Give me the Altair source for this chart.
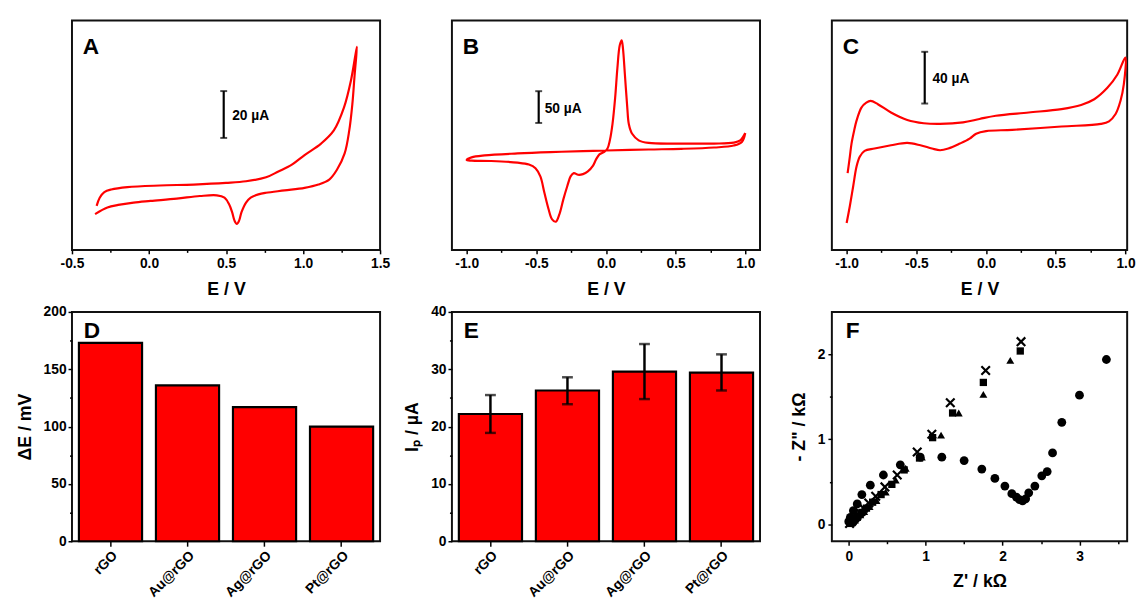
import altair as alt
import pandas as pd

FONT = "Liberation Sans"
RED = "#ff0000"

# ---------------- Panel A (CV) ----------------
A_E = [-0.34, -0.32, -0.29, -0.245, -0.14, 0.07, 0.29, 0.50, 0.63, 0.76, 0.84, 0.925, 1.01, 1.117, 1.20, 1.266, 1.31, 1.34, 1.35,
       1.335, 1.32, 1.30, 1.27, 1.22, 1.17, 1.10, 1.01, 0.88, 0.76, 0.71, 0.66, 0.63, 0.60, 0.585, 0.57, 0.555, 0.54, 0.52,
       0.49, 0.44, 0.33, 0.18, 0.01, -0.10, -0.20, -0.27, -0.35]
A_I = [-5.6, -2.1, 0.3, 1.4, 2.4, 3.1, 3.5, 4.2, 4.9, 6.6, 9.1, 11.9, 16.1, 21.0, 26.6, 36.4, 47.6, 58.8, 62.3,
       50.4, 37.8, 26.6, 16.8, 9.8, 5.6, 3.5, 2.1, 1.0, 0.0, -0.7, -2.1, -4.2, -8.4, -11.9, -13.3, -11.9, -8.4, -4.9,
       -2.1, -1.1, -1.4, -2.5, -3.5, -4.2, -5.2, -6.3, -9.1]

# ---------------- Panel B (CV) ----------------
B_E = [1.0, 0.964, 0.917, 0.776, 0.541, 0.306, 0.235, 0.188, 0.164, 0.153, 0.136, 0.122, 0.113, 0.099, 0.082, 0.066,
       0.047, 0.028, 0.011, -0.012, -0.047, -0.071, -0.094, -0.130, -0.165, -0.200, -0.231, -0.254, -0.278, -0.306,
       -0.334, -0.360, -0.388, -0.412, -0.442, -0.471, -0.506, -0.553, -0.635, -0.824, -0.965, -1.0, -0.965, -0.871,
       -0.635, -0.400, -0.165, 0.0, 0.306, 0.541, 0.776, 0.917, 0.976, 1.0]
B_I = [32.0, 20.6, 17.0, 15.5, 15.5, 16.5, 20.6, 30.9, 46.4, 72.1, 123.6, 164.9, 177.7, 170.0, 134.0, 87.6,
       46.4, 20.6, 7.7, 2.6, -1.5, -9.3, -19.6, -28.3, -32.5, -33.5, -30.9, -36.1, -51.5, -72.1,
       -95.3, -107.2, -103.0, -87.6, -61.8, -36.1, -23.2, -17.5, -14.4, -11.8, -11.3, -10.3, -6.2, -3.1,
       0.0, 2.1, 3.6, 4.6, 6.2, 7.2, 9.3, 12.4, 18.0, 32.0]

# ---------------- Panel C (CV) ----------------
C_E = [-0.993, -0.977, -0.965, -0.946, -0.929, -0.894, -0.859, -0.828, -0.776, -0.682, -0.565, -0.447, -0.330, -0.165,
       -0.047, 0.070, 0.306, 0.541, 0.682, 0.776, 0.870, 0.941, 0.999,
       0.988, 0.964, 0.929, 0.882, 0.823, 0.541, 0.188, 0.0, -0.071, -0.118, -0.188, -0.271, -0.330, -0.388, -0.471,
       -0.565, -0.682, -0.800, -0.871, -0.906, -0.929, -0.953, -0.977, -1.0]
C_I = [-15.2, -2.5, 7.6, 17.7, 25.3, 35.4, 39.2, 40.5, 38.0, 31.6, 25.8, 23.3, 22.8, 24.0,
       26.6, 29.1, 31.6, 34.2, 37.4, 41.8, 50.6, 60.7, 73.9,
       53.2, 40.5, 30.4, 24.8, 22.8, 20.8, 18.2, 17.2, 15.2, 11.4, 7.6, 3.8, 2.5, 3.8, 6.3,
       8.1, 6.3, 3.8, 2.0, -2.5, -10.1, -25.3, -40.5, -53.7]

# scale bars: [E, low, high], label
SB_A = [0.485, 23.4, 43.4]
SB_B = [-0.483, 47.9, 97.8]
SB_C = [-0.440, 38.5, 78.4]
SB_TXT = ["20 µA", "50 µA", "40 µA"]
SB_TXT_POS = [[0.54, 32.9], [-0.44, 69.6], [-0.385, 57.5]]

# ---------------- Panels D, E (bars) ----------------
CATS = ["rGO", "Au@rGO", "Ag@rGO", "Pt@rGO"]
D_VALS = [173, 136, 117, 100]
E_VALS = [22.2, 26.3, 29.6, 29.4]
E_LO = [18.9, 23.9, 24.8, 26.3]
E_HI = [25.5, 28.6, 34.4, 32.6]

# ---------------- Panel F (Nyquist) ----------------
F_CIRC_X = [0.0, 0.02, 0.06, 0.11, 0.17, 0.28, 0.45, 0.67, 0.93, 1.21, 1.50, 1.73, 1.90, 2.03, 2.12, 2.18, 2.22,
            2.26, 2.30, 2.34, 2.42, 2.51, 2.58, 2.65, 2.77, 3.0, 3.35]
F_CIRC_Y = [0.03, 0.08, 0.16, 0.24, 0.35, 0.46, 0.58, 0.70, 0.79, 0.79, 0.75, 0.65, 0.54, 0.45, 0.36, 0.32, 0.29,
            0.275, 0.30, 0.37, 0.45, 0.57, 0.62, 0.84, 1.20, 1.52, 1.94]
F_SQ_X = [0.02, 0.04, 0.06, 0.09, 0.12, 0.17, 0.23, 0.31, 0.42, 0.56, 0.72, 0.92, 1.09, 1.35, 1.75, 2.23]
F_SQ_Y = [0.01, 0.02, 0.04, 0.07, 0.10, 0.14, 0.19, 0.26, 0.35, 0.47, 0.64, 0.78, 1.02, 1.31, 1.67, 2.04]
F_TRI_X = [0.03, 0.05, 0.08, 0.11, 0.15, 0.20, 0.27, 0.36, 0.48, 0.61, 0.74, 0.95, 1.20, 1.43, 1.75, 2.10]
F_TRI_Y = [0.02, 0.03, 0.05, 0.08, 0.11, 0.15, 0.21, 0.28, 0.38, 0.52, 0.66, 0.79, 1.05, 1.31, 1.53, 1.93]
F_X_X = [0.01, 0.03, 0.05, 0.07, 0.10, 0.14, 0.19, 0.26, 0.35, 0.47, 0.63, 0.89, 1.08, 1.32, 1.78, 2.24]
F_X_Y = [0.01, 0.03, 0.05, 0.07, 0.10, 0.14, 0.19, 0.25, 0.33, 0.44, 0.58, 0.85, 1.06, 1.43, 1.81, 2.15]

W0, W1, W2 = 313, 313, 300
H = 233

HALF_TEST = "abs(datum.value*2 - round(datum.value*2)) < 0.001"
INT_TEST = "abs(datum.value - round(datum.value)) < 0.001"


def minor_axis(vals, test, label_fmt, title, **kw):
    return alt.Axis(
        values=vals, title=title,
        labelExpr=f"({test}) ? {label_fmt} : ''",
        tickSize={"condition": {"test": test, "value": 4}, "value": 2.5},
        **kw,
    )


def letter(t, dx, dy):
    return alt.Chart(pd.DataFrame({"t": [t]})).mark_text(
        align="left", baseline="alphabetic", fontSize=23, fontWeight="bold", font=FONT, color="black"
    ).encode(text="t:N", x=alt.value(dx), y=alt.value(dy))


def cv_panel(E, I, xdom, ydom, xvals, sb, sbtxt, sbpos, let, width):
    df = pd.DataFrame({"E": E, "I": I, "k": list(range(len(E)))})
    sfmt = "(datum.value < 0 ? '-' : '') + format(abs(datum.value), '.1f')"
    ax = minor_axis(xvals, HALF_TEST, sfmt, "E / V", labelPadding=3, titlePadding=10)
    xs = alt.Scale(domain=xdom, nice=False, zero=False)
    ys = alt.Scale(domain=ydom, nice=False, zero=False)
    line = alt.Chart(df).mark_line(color=RED, strokeWidth=2.2, interpolate="catmull-rom").encode(
        x=alt.X("E:Q", scale=xs, axis=ax), y=alt.Y("I:Q", scale=ys, axis=None), order="k:Q")
    bar_df = pd.DataFrame({"E": [sb[0]], "I": [sb[1]], "I2": [sb[2]]})
    rule = alt.Chart(bar_df).mark_rule(color="black", strokeWidth=2.2).encode(
        x=alt.X("E:Q", scale=xs, axis=ax), y=alt.Y("I:Q", scale=ys, axis=None), y2="I2:Q")
    cap_df = pd.DataFrame({"E": [sb[0], sb[0]], "I": [sb[1], sb[2]]})
    caps = alt.Chart(cap_df).mark_tick(orient="horizontal", size=7, thickness=2, color="black").encode(
        x=alt.X("E:Q", scale=xs, axis=ax), y=alt.Y("I:Q", scale=ys, axis=None))
    txt_df = pd.DataFrame({"E": [sbpos[0]], "I": [sbpos[1]], "t": [sbtxt]})
    txt = alt.Chart(txt_df).mark_text(align="left", baseline="middle", fontSize=14, fontWeight="bold",
                                      font=FONT, color="black").encode(
        x=alt.X("E:Q", scale=xs, axis=ax), y=alt.Y("I:Q", scale=ys, axis=None), text="t:N")
    return alt.layer(line, rule, caps, txt, letter(let, 11, 34)).properties(width=width, height=H)


A = cv_panel(A_E, A_I, [-0.5, 1.5], [-24.4, 73.5], [-0.5 + 0.25 * i for i in range(9)],
             SB_A, SB_TXT[0], SB_TXT_POS[0], "A", W0)
B = cv_panel(B_E, B_I, [-1.106, 1.106], [-151.5, 208.7], [-1.0 + 0.25 * i for i in range(9)],
             SB_B, SB_TXT[1], SB_TXT_POS[1], "B", W1)
C = cv_panel(C_E, C_I, [-1.106, 1.012], [-74.4, 102.5], [-1.0 + 0.25 * i for i in range(9)],
             SB_C, SB_TXT[2], SB_TXT_POS[2], "C", W2)


def bar_panel(vals, ydom, yvals, ystep, title, let, width, lo=None, hi=None):
    df = pd.DataFrame({"cat": CATS, "v": vals})
    xax = alt.Axis(title=None, labelAngle=-45, tickSize=5, labelPadding=2, labelFontSize=14)
    xs = alt.Scale(paddingInner=0.18, paddingOuter=0.09)
    X = alt.X("cat:N", sort=CATS, scale=xs, axis=xax)
    test = f"datum.value % {ystep} == 0"
    yax = alt.Axis(values=yvals, title=title, format="d",
                   labelExpr=f"({test}) ? datum.label : ''",
                   tickSize={"condition": {"test": test, "value": 4}, "value": 2.5},
                   labelPadding=2, titlePadding=9)
    ys = alt.Scale(domain=ydom, nice=False, zero=False)
    bars = alt.Chart(df).mark_bar(fill=RED, stroke="black", strokeWidth=2.2).encode(
        x=X, y=alt.Y("v:Q", scale=ys, axis=yax))
    layers = [bars]
    if lo is not None:
        edf = pd.DataFrame({"cat": CATS, "lo": lo, "hi": hi})
        err = alt.Chart(edf).mark_rule(color="black", strokeWidth=2.5).encode(
            x=X, y=alt.Y("lo:Q", scale=ys, axis=yax), y2="hi:Q")
        cdf = pd.DataFrame({"cat": CATS + CATS, "e": lo + hi})
        caps = alt.Chart(cdf).mark_tick(size=11, thickness=2.5, color="black").encode(
            x=X, y=alt.Y("e:Q", scale=ys, axis=yax))
        layers += [err, caps]
    layers.append(letter(let, 12, 27))
    return alt.layer(*layers).properties(width=width, height=H)


D = bar_panel(D_VALS, [0, 200], [25 * i for i in range(9)], 50, "ΔE / mV", "D", W0)
E = bar_panel(E_VALS, [0, 40], [5 * i for i in range(9)], 10, "Iₚ / µA", "E", W1, E_LO, E_HI)

# Panel F
xsF = alt.Scale(domain=[-0.22, 3.62], nice=False, zero=False)
ysF = alt.Scale(domain=[-0.2, 2.5], nice=False, zero=False)
intfmt = "format(datum.value, 'd')"
axFx = minor_axis([0.5 * i for i in range(8)], INT_TEST, intfmt, "Z' / kΩ", labelPadding=5, titlePadding=9)
axFy = minor_axis([0.5 * i for i in range(5)], INT_TEST, intfmt, '- Z" / kΩ', labelPadding=3, titlePadding=9)


def fpts(xs_, ys_, shape, size, filled, sw=1):
    df = pd.DataFrame({"x": xs_, "y": ys_})
    return alt.Chart(df).mark_point(shape=shape, size=size, filled=filled, color="black", opacity=1,
                                    strokeWidth=sw).encode(
        x=alt.X("x:Q", scale=xsF, axis=axFx), y=alt.Y("y:Q", scale=ysF, axis=axFy))


F = alt.layer(
    fpts(F_CIRC_X, F_CIRC_Y, "circle", 80, True),
    fpts(F_SQ_X, F_SQ_Y, "square", 55, True),
    fpts(F_TRI_X, F_TRI_Y, "triangle-up", 65, True),
    fpts(F_X_X, F_X_Y, "M-1,-1L1,1M1,-1L-1,1", 75, False, 2.2),
    letter("F", 14, 26),
).properties(width=W2, height=H)

chart = alt.concat(A, B, C, D, E, F, columns=3, spacing={"row": 63, "column": 73},
                   bounds="flush", align="each").properties(
    padding={"left": 7, "top": 7, "right": 0, "bottom": 0}
).configure_axis(
    labelFont=FONT, labelFontSize=14, labelFontWeight="bold", labelColor="black",
    titleFont=FONT, titleFontSize=18, titleFontWeight="bold", titleColor="black",
    domain=False, tickColor="black", tickWidth=1.5, grid=False, labelFlush=False, labelOverlap=False,
).configure_view(stroke="#111111", strokeWidth=2)

chart.save("out.html", embed_options={"renderer": "svg", "actions": False})
